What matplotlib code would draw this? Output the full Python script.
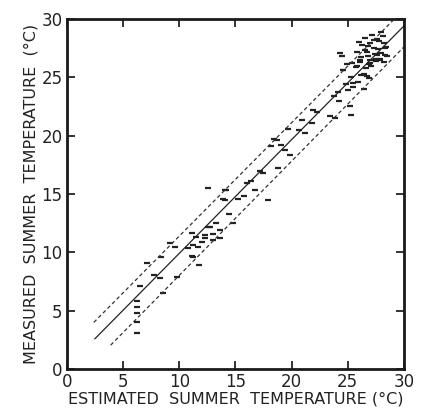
import numpy as np
import matplotlib.pyplot as plt

# estimated vs measured summer water temperature (deg C)
est = [6.2, 6.2, 6.2, 6.2, 6.2, 6.5, 7.1, 7.8, 8.3, 8.4, 8.6, 9.8, 9.6,
       11.1, 11.2, 11.8, 11.7, 11.5, 12.6, 12.3, 12.6, 13.0, 13.3, 13.6,
       14.2, 14.1, 14.4, 13.0, 14.8, 15.8, 16.4, 16.7, 17.5, 17.9, 18.2,
       18.7, 18.8, 19.1, 19.7, 19.9, 20.7, 20.9, 21.2, 21.8, 21.9, 23.4,
       23.9, 24.3, 24.6, 24.9, 25.2, 25.3, 25.5, 25.9, 26.1, 26.2, 26.5,
       26.7, 26.8, 14.07, 13.9, 12.7, 12.3, 11.2, 13.6, 12.0, 11.1, 9.2,
       10.8, 15.2, 16.0, 17.2, 18.4, 19.4, 22.3, 24.1,
       28.0, 27.6, 27.0, 27.3, 28.3, 26.7, 25.8, 26.2, 27.6, 27.9, 27.0,
       28.2, 26.1, 24.5, 25.4, 24.6, 25.8, 26.4, 26.9, 25.3, 25.5, 27.2,
       27.8, 28.4, 26.5, 27.4, 28.1, 26.9, 27.5, 28.0, 26.3, 27.1, 27.7,
       28.5, 26.6, 27.3, 28.2, 26.0, 27.9, 27.0, 26.8, 28.3, 27.5, 25.7,
       24.8, 25.0, 26.4, 23.8, 24.2]
meas = [3.06, 4.06, 4.8, 5.3, 5.8, 7.1, 9.1, 8.1, 7.8, 9.6, 6.5, 7.9, 10.5,
        11.7, 9.6, 8.9, 10.5, 11.3, 15.5, 11.2, 12.2, 11.6, 12.5, 11.9,
        15.3, 14.5, 13.3, 11.1, 12.5, 14.8, 16.1, 15.3, 16.8, 14.5, 19.1,
        19.6, 17.2, 19.2, 20.6, 18.3, 20.5, 21.3, 20.2, 21.1, 22.2, 21.7,
        21.5, 27.1, 25.6, 26.1, 22.5, 21.8, 24.2, 24.6, 26.5, 25.2, 27.3,
        25.1, 26.8, 15.3, 14.6, 12.2, 11.5, 10.6, 11.2, 10.9, 9.7, 10.8,
        10.4, 14.6, 15.9, 17.0, 19.7, 18.8, 22.0, 23.7,
        28.9, 28.3, 27.9, 27.5, 27.5, 27.2, 27.2, 26.7, 26.9, 26.5, 26.5,
        26.3, 26.3, 26.8, 26.2, 25.6, 26.0, 25.3, 24.9, 25.0, 24.5, 28.6,
        28.1, 27.6, 28.4, 27.0, 28.5, 26.1, 26.4, 27.1, 27.8, 26.0, 27.4,
        26.8, 25.8, 28.2, 27.9, 28.0, 26.6, 26.2, 27.7, 26.9, 26.6, 25.9,
        24.4, 23.9, 24.0, 23.4, 23.0]

# regression line and prediction limits
fit_x = [2.5, 30.0]
fit_y = [2.6, 29.4]
upper_x = [2.4, 29.0]
upper_y = [4.0, 29.85]
lower_x = [3.9, 30.0]
lower_y = [2.05, 27.6]

plt.rcParams['font.family'] = ['DejaVu Sans']

fig = plt.figure(figsize=(4.23, 4.11), dpi=100)
ax = fig.add_axes([0.158, 0.102, 0.797, 0.852])

ax.plot(est, meas, ls='none', marker='_', ms=4.5, mew=1.6, color='#222222')
ax.plot(fit_x, fit_y, color='#222222', lw=0.9)
ax.plot(upper_x, upper_y, color='#333333', lw=0.9, dashes=(3, 2.2))
ax.plot(lower_x, lower_y, color='#333333', lw=0.9, dashes=(3, 2.2))

ax.set_xlim(0, 30)
ax.set_ylim(0, 30)
ax.set_xticks(range(0, 31, 5))
ax.set_yticks(range(0, 31, 5))
ax.tick_params(direction='in', length=6, width=1.3, top=True, right=True,
               labelsize=12, colors='#222222', pad=3)
for s in ax.spines.values():
    s.set_linewidth(2)
    s.set_color('#1a1a1a')

ax.set_xlabel('ESTIMATED  SUMMER  TEMPERATURE (°C)', fontsize=11.5,
              color='#222222', labelpad=0)
ax.set_ylabel('MEASURED  SUMMER  TEMPERATURE  (°C)', fontsize=11.5,
              color='#222222', labelpad=2)

fig.savefig('out.png', dpi=100)
